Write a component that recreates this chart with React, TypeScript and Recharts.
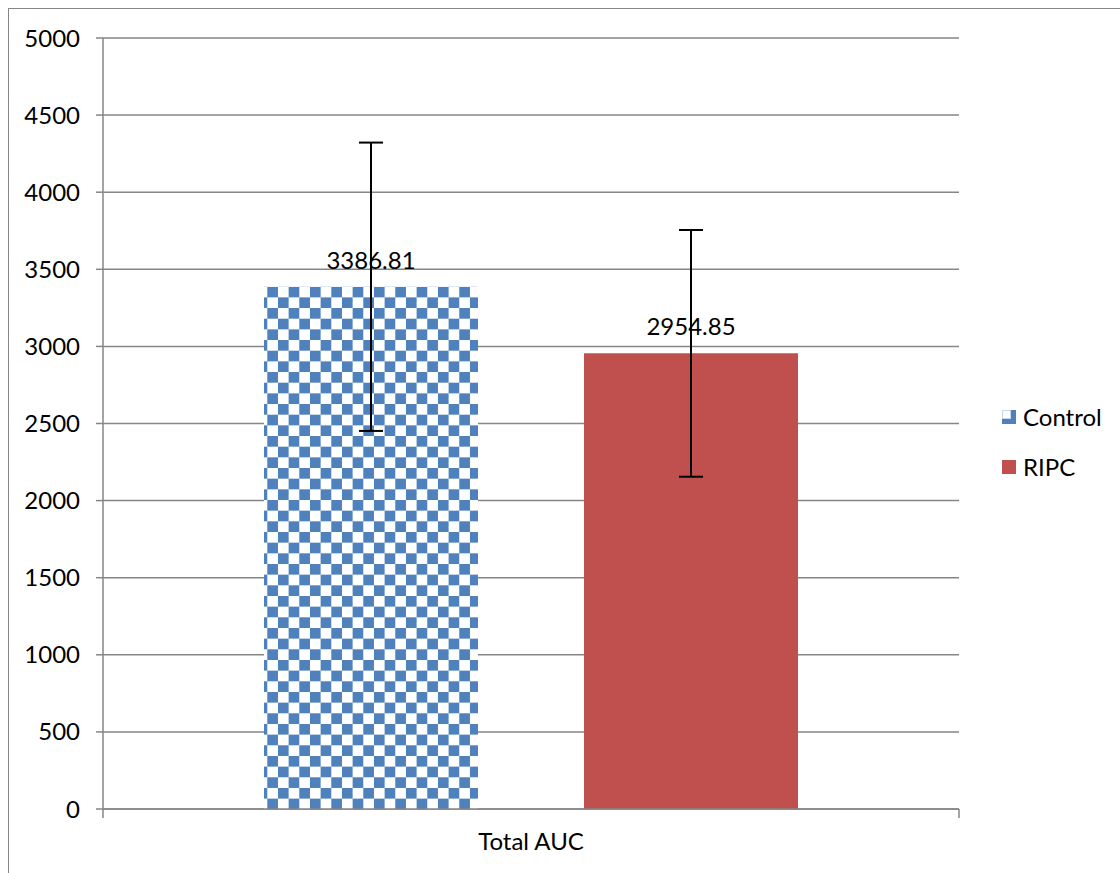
import React from 'react';
import {
  Bar,
  BarChart,
  CartesianGrid,
  ErrorBar,
  LabelList,
  XAxis,
  YAxis,
  usePlotArea,
} from 'recharts';

const categories = ['Total AUC'];
const controlValues = [3386.81];
const ripcValues = [2954.85];
const controlErrors = [935];
const ripcErrors = [800];
const yTicks = [0, 500, 1000, 1500, 2000, 2500, 3000, 3500, 4000, 4500, 5000];

const BLUE = '#4F81BD';
const RED = '#C0504D';
const GRID = '#868686';
const FONT = 'Lato, "Open Sans", sans-serif';
const FS = 24;

const chartData = categories.map((name, i) => ({
  name,
  Control: controlValues[i],
  RIPC: ripcValues[i],
  controlErr: controlErrors[i],
  ripcErr: ripcErrors[i],
}));

// Excel draws the category-axis tick marks at the band edges
const EdgeTicks = () => {
  const area = usePlotArea();
  if (!area) return null;
  const yb = area.y + area.height;
  return (
    <g>
      <line x1={area.x} x2={area.x} y1={yb} y2={yb + 9} stroke={GRID} strokeWidth={1.5} />
      <line
        x1={area.x + area.width}
        x2={area.x + area.width}
        y1={yb}
        y2={yb + 9}
        stroke={GRID}
        strokeWidth={1.5}
      />
    </g>
  );
};

const Legend = () => (
  <div
    style={{
      position: 'absolute',
      left: 1002,
      top: 403,
      fontFamily: FONT,
      fontSize: FS,
      color: '#000',
      lineHeight: '28px',
    }}>
    <div style={{ display: 'flex', alignItems: 'center', height: 28 }}>
      <svg width={14} height={14} style={{ marginRight: 7 }}>
        <rect x={0} y={0} width={14} height={14} fill={BLUE} />
        <rect x={0.5} y={0.5} width={8} height={8} fill='#fff' stroke='#c9d7ea' strokeWidth={1} />
      </svg>
      Control
    </div>
    <div style={{ display: 'flex', alignItems: 'center', height: 28, marginTop: 22 }}>
      <svg width={14} height={14} style={{ marginRight: 7 }}>
        <rect x={0} y={0} width={14} height={14} fill={RED} />
      </svg>
      RIPC
    </div>
  </div>
);

export default function App() {
  return (
    <div
      style={{
        position: 'absolute',
        left: 0,
        top: 0,
        width: 1120,
        height: 873,
        overflow: 'hidden',
        background: '#fff',
      }}>
      <div
        style={{
          position: 'absolute',
          left: 8,
          top: 8,
          width: 1200,
          height: 1000,
          border: `1px solid ${GRID}`,
        }}
      />
      <svg width={0} height={0} style={{ position: 'absolute' }}>
        <defs>
          <pattern
            id='checker'
            patternUnits='userSpaceOnUse'
            x={267.3}
            y={286.7}
            width={21.33}
            height={21.33}>
            <rect x={0} y={0} width={21.33} height={21.33} fill='#fff' />
            <rect x={0} y={0} width={10.67} height={10.67} fill={BLUE} />
            <rect x={10.67} y={10.67} width={10.67} height={10.67} fill={BLUE} />
          </pattern>
        </defs>
      </svg>
      <BarChart
        width={1120}
        height={873}
        data={chartData}
        margin={{ top: 38, right: 161, bottom: 0, left: 0 }}
        barCategoryGap={161}
        barGap={106}
        style={{ position: 'absolute', left: 0, top: 0, fontFamily: FONT }}>
        <CartesianGrid vertical={false} stroke={GRID} strokeWidth={1.5} />
        <XAxis
          dataKey='name'
          height={64}
          axisLine={{ stroke: GRID, strokeWidth: 1.5 }}
          tickLine={false}
          tickSize={0}
          tickMargin={24}
          tick={{ fill: '#000', fontSize: FS, fontFamily: FONT }}
        />
        <YAxis
          width={103}
          domain={[0, 5000]}
          ticks={yTicks}
          interval={0}
          axisLine={{ stroke: GRID, strokeWidth: 1.5 }}
          tickLine={{ stroke: GRID, strokeWidth: 1.5 }}
          tickSize={7}
          tickMargin={16}
          tick={{ fill: '#000', fontSize: FS, fontFamily: FONT }}
        />
        <Bar dataKey='Control' fill='url(#checker)' isAnimationActive={false}>
          <LabelList
            dataKey='Control'
            position='top'
            offset={18}
            fill='#000'
            fontSize={FS}
            fontFamily={FONT}
          />
          <ErrorBar dataKey='controlErr' width={12} stroke='#000' strokeWidth={2} direction='y' />
        </Bar>
        <Bar dataKey='RIPC' fill={RED} isAnimationActive={false}>
          <LabelList
            dataKey='RIPC'
            position='top'
            offset={18}
            fill='#000'
            fontSize={FS}
            fontFamily={FONT}
          />
          <ErrorBar dataKey='ripcErr' width={12} stroke='#000' strokeWidth={2} direction='y' />
        </Bar>
        <EdgeTicks />
      </BarChart>
      <Legend />
    </div>
  );
}
